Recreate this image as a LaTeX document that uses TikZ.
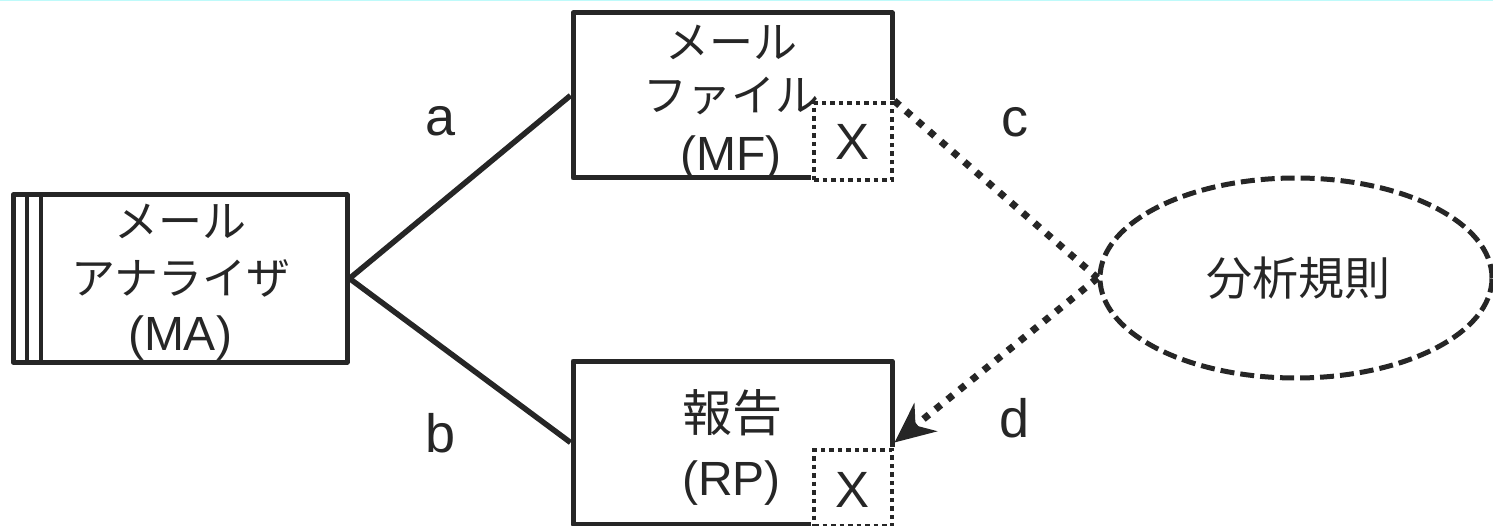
\documentclass[tikz,border=0pt]{standalone}
\usepackage{fontspec}
\setmainfont{Liberation Sans}
\newfontfamily\jp{Noto Sans CJK JP}
\usetikzlibrary{arrows.meta,shapes.geometric}
\definecolor{ink}{HTML}{262626}
\definecolor{topline}{RGB}{190,250,250}
\begin{document}
\begin{tikzpicture}[x=1pt,y=-1pt,
  box/.style={draw=ink, line width=5pt, line join=round, rectangle, inner sep=0pt},
  xbox/.style={draw=ink, line width=4.5pt, dash pattern=on 4.5pt off 4pt, rectangle, inner sep=0pt,
    preaction={draw=white, fill=white, solid, line width=5.5pt}},
  rulell/.style={draw=ink, line width=5pt, dash pattern=on 14pt off 6pt, ellipse, inner sep=0pt},
  link/.style={draw=ink, line width=5.5pt},
  dotlink/.style={draw=ink, line width=7pt, dash pattern=on 7pt off 8.5pt},
  jptxt/.style={inner sep=0pt, text=ink, font=\jp\fontsize{44}{50}\selectfont},
  kanji/.style={inner sep=0pt, text=ink, font=\jp\fontsize{50}{56}\selectfont},
  lattxt/.style={inner sep=0pt, text=ink, font=\fontsize{48}{56}\selectfont},
  xtxt/.style={inner sep=0pt, text=ink, font=\fontsize{51}{58}\selectfont},
  lbl/.style={inner sep=0pt, text=ink, font=\fontsize{54}{60}\selectfont}]
\useasboundingbox (0,0) rectangle (1493,526);
\draw[topline, line width=2pt] (0,0) -- (1493,0);

% boxes
\node[box, minimum width=334pt, minimum height=167pt] (MA) at (180,278.5) {};
\draw[ink, line width=4pt] ([xshift=16pt]MA.north west) -- ([xshift=16pt]MA.south west);
\draw[ink, line width=4pt] ([xshift=30pt]MA.north west) -- ([xshift=30pt]MA.south west);
\node[box, minimum width=319pt, minimum height=165pt] (MF) at (732.5,95.5) {};
\node[xbox, minimum width=78pt, minimum height=77pt] (MFX) at (853,141.5) {};
\node[box, minimum width=319pt, minimum height=163pt] (RP) at (732.5,442.5) {};
\node[xbox, minimum width=78pt, minimum height=76pt] (RPX) at (853,488) {};
\node[rulell, minimum width=392pt, minimum height=200pt] (AR) at (1296,278) {};

% texts
\node[jptxt] (ma1) at (180,221) {メール};
\node[jptxt] (ma2) at (181,278) {アナライザ};
\node[lattxt] (ma3) at (180,338) {(MA)};
\node[jptxt] (mf1) at (731,42) {メール};
\node[jptxt] (mf2) at (731,96) {ファイル};
\node[lattxt] (mf3) at (731,158) {(MF)};
\node[xtxt] (mfx) at (852.5,142) {X};
\node[kanji] (rp1) at (732,413) {報告};
\node[lattxt] (rp2) at (731.5,483) {(RP)};
\node[xtxt] (rpx) at (852.5,490) {X};
\node[jptxt, font=\jp\fontsize{46}{52}\selectfont] (ar1) at (1298,278) {分析規則};

% connectors
\draw[link] (MA.east) -- (MF.west);
\draw[link] (MA.east) -- (RP.west);
\draw[dotlink] (MFX.north east) -- (AR.west);
\draw[dotlink, -{Stealth[length=40pt,width=36pt,inset=13pt]}] (AR.west) -- (RP.east);

% labels
\node[lbl] (la) at (441,121) {a};
\node[lbl] (lb) at (441,433) {b};
\node[lbl] (lc) at (1015,122) {c};
\node[lbl] (ld) at (1015,418) {d};
\end{tikzpicture}
\end{document}
